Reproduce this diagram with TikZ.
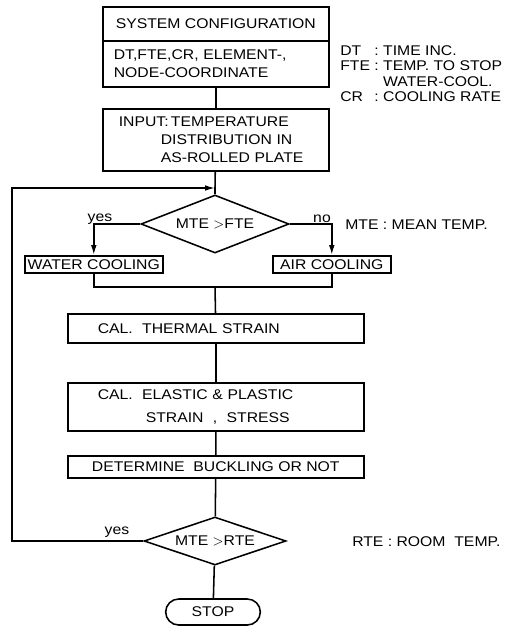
\documentclass[tikz,border=0pt]{standalone}
\usepackage{fontspec}
\setmainfont{Liberation Sans}[FakeStretch=1.12]
\usetikzlibrary{shapes.geometric, shapes.misc, arrows.meta}

\begin{document}
\begin{tikzpicture}[x=0.025cm, y=-0.025cm,
    flow/.style={line width=1.1pt},
    flowarrow/.style={flow, -{Latex[length=7pt,width=4pt]}},
    box/.style={draw, rectangle, line width=1.1pt, anchor=north west, inner sep=0pt,
        font=\fontsize{10}{12.5}\selectfont},
    test/.style={draw, diamond, line width=1.1pt, inner sep=0pt,
        font=\fontsize{10}{12.5}\selectfont},
    note/.style={anchor=west, inner sep=0pt, font=\fontsize{10}{12.5}\selectfont}]

    % Fix the page size
    \useasboundingbox (0,0) rectangle (520,631);

    % Draw the set-up boxes
    \node[box, minimum width=5.65cm, minimum height=0.85cm] (sys) at (102,6) {SYSTEM CONFIGURATION};
    \node[box, inner xsep=0.275cm, text width=5.1cm, minimum height=1.15cm, align=left] (param) at (102,40)
        {DT,FTE,CR, ELEMENT-,\\NODE-COORDINATE};
    \node[box, inner xsep=0.4cm, text width=4.85cm, minimum height=1.55cm, align=left] (input) at (102,108)
        {INPUT:\,TEMPERATURE\\\hspace*{1.05cm}DISTRIBUTION IN\\\hspace*{1.05cm}AS-ROLLED PLATE};

    % Draw the cooling decision
    \node[test, aspect=2.5, minimum width=3.7cm, minimum height=1.45cm] (fte) at (215,224) {MTE $>$FTE};
    \node[box, minimum width=3.45cm, minimum height=0.425cm] (water) at (24,255) {WATER COOLING};
    \node[box, minimum width=2.95cm, minimum height=0.425cm] (air) at (272,255) {AIR COOLING};

    % Draw the calculation boxes
    \node[box, inner xsep=0.75cm, text width=5.9cm, minimum height=0.725cm, align=left] (thermal) at (67,313)
        {CAL.\ \ THERMAL STRAIN};
    \node[box, inner xsep=0.75cm, text width=5.9cm, minimum height=1.2cm, align=left] (elastic) at (67,382)
        {CAL.\ \ ELASTIC \& PLASTIC\\[4pt]\hspace{1.2cm}STRAIN\ \ ,\ \ STRESS};
    \node[box, minimum width=7.4cm, minimum height=0.55cm] (buckle) at (67,455) {DETERMINE\ \ BUCKLING OR NOT};

    % Draw the end decision and the stop
    \node[test, aspect=2.9, minimum width=3.55cm, minimum height=1.2cm] (rte) at (215,541) {MTE $>$RTE};
    \node[draw, rounded rectangle, line width=1.1pt, minimum width=2.6cm, minimum height=0.65cm,
        font=\fontsize{10}{12.5}\selectfont] (stop) at (213,612) {STOP};

    % Define the junctions
    \coordinate (merge) at (215,188);
    \coordinate (join) at (215,287);
    \coordinate (loop) at (12,188);

    % Draw the connectors
    \draw[flow] (param) -- (input);
    \draw[flow] (input) -- (merge) -- (fte);
    \draw[flowarrow] (fte.west) -| (water.north);
    \draw[flowarrow] (fte.east) -| (air.north);
    \draw[flow] (water.south) |- (join) -| (air.south);
    \draw[flow] (join) -- (thermal);
    \draw[flow] (thermal) -- (elastic);
    \draw[flow] (elastic) -- (buckle);
    \draw[flow] (buckle) -- (rte);
    \draw[flow] (rte) -- (stop);
    \draw[flowarrow] (rte.west) -| (loop) -- (merge);

    % Label the branches
    \node[font=\fontsize{10}{12}\selectfont, inner sep=0pt] (yes1) at (100,219) {yes};
    \node[font=\fontsize{10}{12}\selectfont, inner sep=0pt] (no1) at (322,219) {no};
    \node[font=\fontsize{10}{12}\selectfont, inner sep=0pt] (yes2) at (117,532) {yes};

    % Write the notes
    \node[anchor=north west, inner sep=0pt, font=\fontsize{10}{11}\selectfont] (legend) at (340,44)
        {\begin{tabular}{@{}l@{\ }c@{\ }l@{}}
            DT & : & TIME INC.\\
            FTE & : & TEMP. TO STOP\\
                &   & WATER-COOL.\\
            CR & : & COOLING RATE
        \end{tabular}};
    \node[note] (mte) at (345,225) {MTE : MEAN TEMP.};
    \node[note] (rtenote) at (352,542) {RTE : ROOM\ \ TEMP.};

\end{tikzpicture}
\end{document}
